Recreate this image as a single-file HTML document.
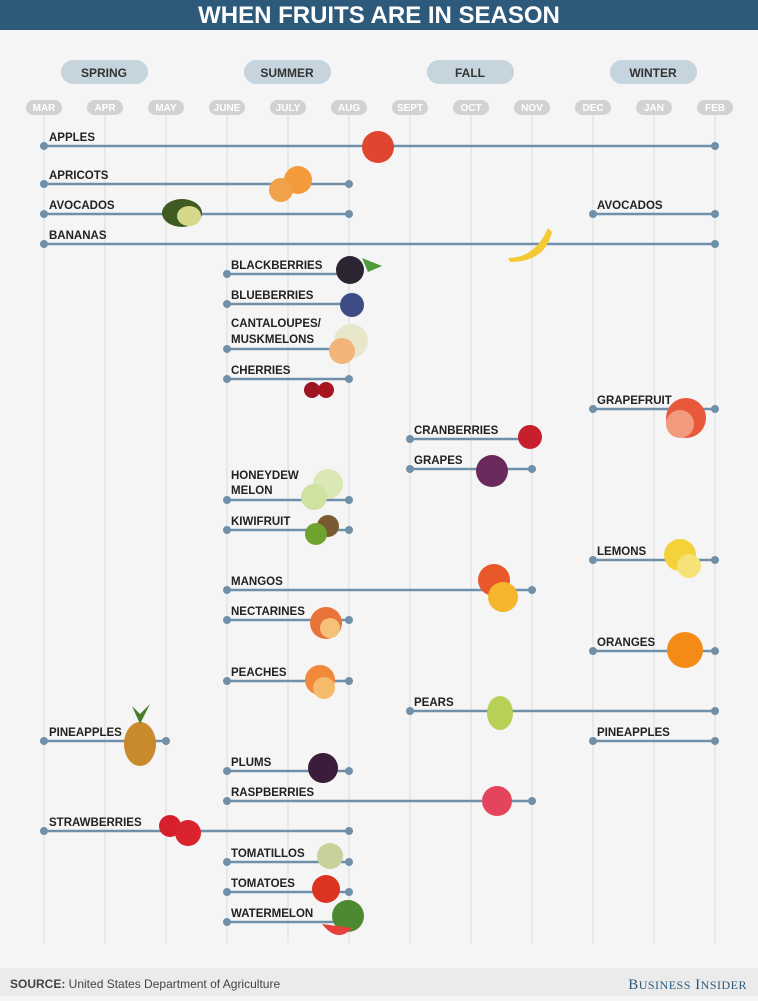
<!DOCTYPE html>
<html><head><meta charset="utf-8"><style>
body{margin:0;width:758px;height:996px;overflow:hidden;background:#f5f5f5;font-family:"Liberation Sans",sans-serif}
</style></head><body>
<svg width="758" height="996" viewBox="0 0 758 996" xmlns="http://www.w3.org/2000/svg" font-family="Liberation Sans, sans-serif">
<rect width="758" height="996" fill="#f5f5f5"/>
<rect width="758" height="30" fill="#2d5a7b"/>
<text x="379" y="23" text-anchor="middle" font-size="24" font-weight="bold" fill="#fff">WHEN FRUITS ARE IN SEASON</text>
<g fill="#c6d4dd">
<rect x="61" y="60" width="87" height="24" rx="12"/><rect x="244" y="60" width="87" height="24" rx="12"/>
<rect x="427" y="60" width="87" height="24" rx="12"/><rect x="610" y="60" width="87" height="24" rx="12"/></g>
<g font-size="12" font-weight="bold" fill="#333" text-anchor="middle">
<text x="104" y="77">SPRING</text><text x="287" y="77">SUMMER</text><text x="470" y="77">FALL</text><text x="653" y="77">WINTER</text></g>
<g stroke="#dcdcdc" stroke-width="1">
<line x1="44" y1="108" x2="44" y2="943"/><line x1="105" y1="108" x2="105" y2="943"/><line x1="166" y1="108" x2="166" y2="943"/><line x1="227" y1="108" x2="227" y2="943"/><line x1="288" y1="108" x2="288" y2="943"/><line x1="349" y1="108" x2="349" y2="943"/><line x1="410" y1="108" x2="410" y2="943"/><line x1="471" y1="108" x2="471" y2="943"/><line x1="532" y1="108" x2="532" y2="943"/><line x1="593" y1="108" x2="593" y2="943"/><line x1="654" y1="108" x2="654" y2="943"/><line x1="715" y1="108" x2="715" y2="943"/></g>
<g fill="#d2d2d2">
<rect x="26" y="100" width="36" height="15" rx="7.5"/><rect x="87" y="100" width="36" height="15" rx="7.5"/><rect x="148" y="100" width="36" height="15" rx="7.5"/><rect x="209" y="100" width="36" height="15" rx="7.5"/><rect x="270" y="100" width="36" height="15" rx="7.5"/><rect x="331" y="100" width="36" height="15" rx="7.5"/><rect x="392" y="100" width="36" height="15" rx="7.5"/><rect x="453" y="100" width="36" height="15" rx="7.5"/><rect x="514" y="100" width="36" height="15" rx="7.5"/><rect x="575" y="100" width="36" height="15" rx="7.5"/><rect x="636" y="100" width="36" height="15" rx="7.5"/><rect x="697" y="100" width="36" height="15" rx="7.5"/></g>
<g font-size="10" font-weight="bold" fill="#fff" text-anchor="middle">
<text x="44" y="111">MAR</text><text x="105" y="111">APR</text><text x="166" y="111">MAY</text><text x="227" y="111">JUNE</text><text x="288" y="111">JULY</text><text x="349" y="111">AUG</text><text x="410" y="111">SEPT</text><text x="471" y="111">OCT</text><text x="532" y="111">NOV</text><text x="593" y="111">DEC</text><text x="654" y="111">JAN</text><text x="715" y="111">FEB</text></g>
<g stroke="#6f90a8" stroke-width="2.5">
<line x1="44" y1="146" x2="715" y2="146"/>
<line x1="44" y1="184" x2="349" y2="184"/>
<line x1="44" y1="214" x2="349" y2="214"/><line x1="593" y1="214" x2="715" y2="214"/>
<line x1="44" y1="244" x2="715" y2="244"/>
<line x1="227" y1="274" x2="349" y2="274"/>
<line x1="227" y1="304" x2="349" y2="304"/>
<line x1="227" y1="349" x2="349" y2="349"/>
<line x1="227" y1="379" x2="349" y2="379"/>
<line x1="593" y1="409" x2="715" y2="409"/>
<line x1="410" y1="439" x2="532" y2="439"/>
<line x1="410" y1="469" x2="532" y2="469"/>
<line x1="227" y1="500" x2="349" y2="500"/>
<line x1="227" y1="530" x2="349" y2="530"/>
<line x1="593" y1="560" x2="715" y2="560"/>
<line x1="227" y1="590" x2="532" y2="590"/>
<line x1="227" y1="620" x2="349" y2="620"/>
<line x1="593" y1="651" x2="715" y2="651"/>
<line x1="227" y1="681" x2="349" y2="681"/>
<line x1="410" y1="711" x2="715" y2="711"/>
<line x1="44" y1="741" x2="166" y2="741"/><line x1="593" y1="741" x2="715" y2="741"/>
<line x1="227" y1="771" x2="349" y2="771"/>
<line x1="227" y1="801" x2="532" y2="801"/>
<line x1="44" y1="831" x2="349" y2="831"/>
<line x1="227" y1="862" x2="349" y2="862"/>
<line x1="227" y1="892" x2="349" y2="892"/>
<line x1="227" y1="922" x2="349" y2="922"/></g>
<g fill="#6f90a8">
<circle cx="44" cy="146" r="4"/><circle cx="715" cy="146" r="4"/>
<circle cx="44" cy="184" r="4"/><circle cx="349" cy="184" r="4"/>
<circle cx="44" cy="214" r="4"/><circle cx="349" cy="214" r="4"/><circle cx="593" cy="214" r="4"/><circle cx="715" cy="214" r="4"/>
<circle cx="44" cy="244" r="4"/><circle cx="715" cy="244" r="4"/>
<circle cx="227" cy="274" r="4"/><circle cx="349" cy="274" r="4"/>
<circle cx="227" cy="304" r="4"/><circle cx="349" cy="304" r="4"/>
<circle cx="227" cy="349" r="4"/><circle cx="349" cy="349" r="4"/>
<circle cx="227" cy="379" r="4"/><circle cx="349" cy="379" r="4"/>
<circle cx="593" cy="409" r="4"/><circle cx="715" cy="409" r="4"/>
<circle cx="410" cy="439" r="4"/><circle cx="532" cy="439" r="4"/>
<circle cx="410" cy="469" r="4"/><circle cx="532" cy="469" r="4"/>
<circle cx="227" cy="500" r="4"/><circle cx="349" cy="500" r="4"/>
<circle cx="227" cy="530" r="4"/><circle cx="349" cy="530" r="4"/>
<circle cx="593" cy="560" r="4"/><circle cx="715" cy="560" r="4"/>
<circle cx="227" cy="590" r="4"/><circle cx="532" cy="590" r="4"/>
<circle cx="227" cy="620" r="4"/><circle cx="349" cy="620" r="4"/>
<circle cx="593" cy="651" r="4"/><circle cx="715" cy="651" r="4"/>
<circle cx="227" cy="681" r="4"/><circle cx="349" cy="681" r="4"/>
<circle cx="410" cy="711" r="4"/><circle cx="715" cy="711" r="4"/>
<circle cx="44" cy="741" r="4"/><circle cx="166" cy="741" r="4"/><circle cx="593" cy="741" r="4"/><circle cx="715" cy="741" r="4"/>
<circle cx="227" cy="771" r="4"/><circle cx="349" cy="771" r="4"/>
<circle cx="227" cy="801" r="4"/><circle cx="532" cy="801" r="4"/>
<circle cx="44" cy="831" r="4"/><circle cx="349" cy="831" r="4"/>
<circle cx="227" cy="862" r="4"/><circle cx="349" cy="862" r="4"/>
<circle cx="227" cy="892" r="4"/><circle cx="349" cy="892" r="4"/>
<circle cx="227" cy="922" r="4"/><circle cx="349" cy="922" r="4"/></g>
<g font-size="11.5" font-weight="bold" fill="#222">
<text x="49" y="141">APPLES</text>
<text x="49" y="179">APRICOTS</text>
<text x="49" y="209">AVOCADOS</text><text x="597" y="209">AVOCADOS</text>
<text x="49" y="239">BANANAS</text>
<text x="231" y="269">BLACKBERRIES</text>
<text x="231" y="299">BLUEBERRIES</text>
<text x="231" y="327">CANTALOUPES/</text><text x="231" y="343">MUSKMELONS</text>
<text x="231" y="374">CHERRIES</text>
<text x="597" y="404">GRAPEFRUIT</text>
<text x="414" y="434">CRANBERRIES</text>
<text x="414" y="464">GRAPES</text>
<text x="231" y="479">HONEYDEW</text><text x="231" y="494">MELON</text>
<text x="231" y="525">KIWIFRUIT</text>
<text x="597" y="555">LEMONS</text>
<text x="231" y="585">MANGOS</text>
<text x="231" y="615">NECTARINES</text>
<text x="597" y="646">ORANGES</text>
<text x="231" y="676">PEACHES</text>
<text x="414" y="706">PEARS</text>
<text x="49" y="736">PINEAPPLES</text><text x="597" y="736">PINEAPPLES</text>
<text x="231" y="766">PLUMS</text>
<text x="231" y="796">RASPBERRIES</text>
<text x="49" y="826">STRAWBERRIES</text>
<text x="231" y="857">TOMATILLOS</text>
<text x="231" y="887">TOMATOES</text>
<text x="231" y="917">WATERMELON</text></g>
<circle cx="378" cy="147" r="16" fill="#e0452f"/>
<circle cx="298" cy="180" r="14" fill="#f39a3a"/><circle cx="281" cy="190" r="12" fill="#f0a24a"/>
<ellipse cx="182" cy="213" rx="20" ry="14" fill="#3f5a23"/><ellipse cx="189" cy="216" rx="12" ry="10" fill="#d5d78a"/>
<path d="M508 258 Q535 258 548 228 L552 232 Q545 262 510 262 Z" fill="#f3c934"/>
<circle cx="350" cy="270" r="14" fill="#2a2530"/><path d="M362 258 l20 8 -14 6z" fill="#4f9a3a"/>
<circle cx="352" cy="305" r="12" fill="#3e4b85"/>
<circle cx="351" cy="341" r="17" fill="#e8e7cc"/><circle cx="342" cy="351" r="13" fill="#f2b479"/>
<circle cx="312" cy="390" r="8" fill="#9c1420"/><circle cx="326" cy="390" r="8" fill="#a8151f"/>
<circle cx="686" cy="418" r="20" fill="#e8593b"/><circle cx="680" cy="424" r="14" fill="#f29a7e"/>
<circle cx="530" cy="437" r="12" fill="#c81f2e"/>
<circle cx="492" cy="471" r="16" fill="#6a2b5c"/>
<circle cx="328" cy="484" r="15" fill="#d9e8b5"/><circle cx="314" cy="497" r="13" fill="#cfe2a0"/>
<circle cx="328" cy="526" r="11" fill="#7a5a32"/><circle cx="316" cy="534" r="11" fill="#6fa32e"/>
<circle cx="680" cy="555" r="16" fill="#f4d33a"/><circle cx="689" cy="566" r="12" fill="#f6e277"/>
<circle cx="494" cy="580" r="16" fill="#e8582b"/><circle cx="503" cy="597" r="15" fill="#f5b52c"/>
<circle cx="326" cy="623" r="16" fill="#e8743a"/><circle cx="330" cy="628" r="10" fill="#f6c17a"/>
<circle cx="685" cy="650" r="18" fill="#f58b17"/>
<circle cx="320" cy="680" r="15" fill="#f1883a"/><circle cx="324" cy="688" r="11" fill="#f5ba6a"/>
<ellipse cx="500" cy="713" rx="13" ry="17" fill="#b7d056"/>
<ellipse cx="140" cy="744" rx="16" ry="22" fill="#c88a2a"/><path d="M140 724 l-8 -18 8 8 10 -10z" fill="#4a7d2b"/>
<circle cx="323" cy="768" r="15" fill="#3a1d3a"/>
<circle cx="497" cy="801" r="15" fill="#e5455c"/>
<circle cx="170" cy="826" r="11" fill="#d61f2a"/><circle cx="188" cy="833" r="13" fill="#d9232d"/>
<circle cx="330" cy="856" r="13" fill="#c7d19a"/>
<circle cx="326" cy="889" r="14" fill="#dc3420"/>
<circle cx="348" cy="916" r="16" fill="#4c8a32"/><path d="M322 924 Q338 944 352 928 Z" fill="#e6403a"/>
<rect x="0" y="968" width="758" height="28" fill="#ebebeb"/>
<text x="10" y="988" font-size="12" fill="#444"><tspan font-weight="bold">SOURCE:</tspan> United States Department of Agriculture</text>
<text x="747" y="989" text-anchor="end" font-family="Liberation Serif, serif" font-size="15" fill="#2d5a7b" letter-spacing="0.5">B<tspan font-size="12">USINESS</tspan> I<tspan font-size="12">NSIDER</tspan></text>
</svg>
</body></html>
